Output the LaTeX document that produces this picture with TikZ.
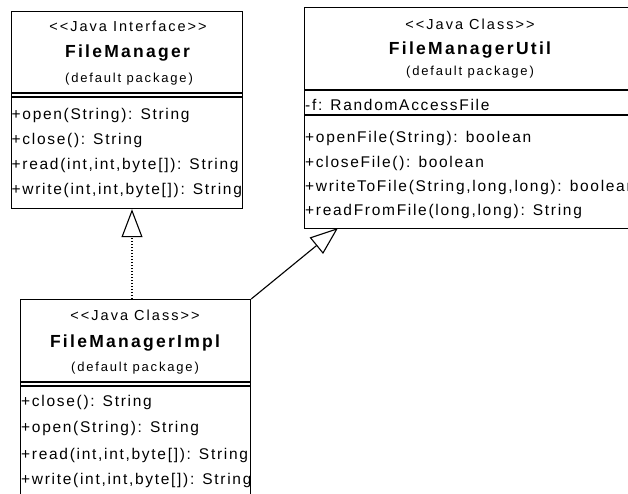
\documentclass[tikz,border=0pt]{standalone}
\usepackage{fontspec}
\setmainfont{Liberation Sans}
\newfontfamily\memfont[LetterSpace=11]{Liberation Sans}
\newfontfamily\stfont[LetterSpace=14]{Liberation Sans}
\newfontfamily\ttlfont[LetterSpace=13]{Liberation Sans}
\newfontfamily\pkfont[LetterSpace=14]{Liberation Sans}
\usetikzlibrary{arrows.meta}
\tikzset{
  umlbox/.style={draw, line width=1.2pt, fill=white, anchor=north west, inner sep=0pt},
  sepline/.style={line width=1.2pt},
  stereo/.style={inner sep=0pt, font=\stfont\fontsize{14.5}{17}\selectfont},
  title/.style={inner sep=0pt, font=\ttlfont\bfseries\fontsize{17.5}{20}\selectfont},
  pkg/.style={inner sep=0pt, font=\pkfont\fontsize{13}{15}\selectfont},
  mem/.style={anchor=west, inner sep=0pt, font=\memfont\fontsize{15.5}{18}\selectfont, text height=11pt, text depth=3pt},
  realize/.style={line width=1.1pt, dash pattern=on 1.3pt off 1.7pt, -{Triangle[open, length=28pt, width=21pt, line width=1.1pt]}},
  gen/.style={line width=1.1pt, -{Triangle[open, length=28pt, width=21pt, line width=1.1pt]}}
}
\begin{document}
\begin{tikzpicture}[x=1pt,y=-1pt]
\useasboundingbox (0,0) rectangle (628,493);
\clip (0,0) rectangle (628,493);
\fill[white] (0,0) rectangle (628,493);

% FileManager
\node[umlbox, minimum width=231pt, minimum height=197pt] (fm) at (11,11) {};
\draw[sepline] (11,93) -- (242,93) (11,97) -- (242,97);
\node[stereo] (fms) at (128,26) {<<Java Interface>>};
\node[title] (fmt) at (127.5,53) {FileManager};
\node[pkg] (fmp) at (129,79) {(default package)};
\node[mem] (fm1) at (11.5,115) {+open(String): String};
\node[mem] (fm2) at (11.5,140) {+close(): String};
\node[mem] (fm3) at (11.5,165) {+read(int,int,byte[]): String};
\node[mem] (fm4) at (11.5,190) {+write(int,int,byte[]): String};

% FileManagerUtil
\node[umlbox, minimum width=332pt, minimum height=221pt] (fmu) at (304,7) {};
\draw[sepline] (304,90) -- (636,90) (304,115) -- (636,115);
\node[stereo] (fmus) at (470,24) {<<Java Class>>};
\node[title] (fmut) at (470,50) {FileManagerUtil};
\node[pkg] (fmup) at (470,72) {(default package)};
\node[mem] (fmua) at (305,106) {-f: RandomAccessFile};
\node[mem] (fmu1) at (305,138) {+openFile(String): boolean};
\node[mem] (fmu2) at (305,163) {+closeFile(): boolean};
\node[mem] (fmu3) at (305,187) {+writeToFile(String,long,long): boolean};
\node[mem] (fmu4) at (305,211) {+readFromFile(long,long): String};

% FileManagerImpl
\node[umlbox, minimum width=230pt, minimum height=220pt] (fmi) at (20,299) {};
\draw[sepline] (20,382) -- (250,382) (20,386) -- (250,386);
\node[stereo] (fmis) at (135,315) {<<Java Class>>};
\node[title] (fmit) at (135,343) {FileManagerImpl};
\node[pkg] (fmip) at (135,368) {(default package)};
\node[mem] (fmi1) at (21,402) {+close(): String};
\node[mem] (fmi2) at (21,428) {+open(String): String};
\node[mem] (fmi3) at (21,455) {+read(int,int,byte[]): String};
\node[mem] (fmi4) at (21,480) {+write(int,int,byte[]): String};

% connectors
\coordinate (rx) at (132,0);
\coordinate (gt) at (338,228);
\draw[realize] (fmi.north -| rx) -- (fm.south -| rx);
\draw[gen] (fmi.north east) -- (gt);
\end{tikzpicture}
\end{document}
